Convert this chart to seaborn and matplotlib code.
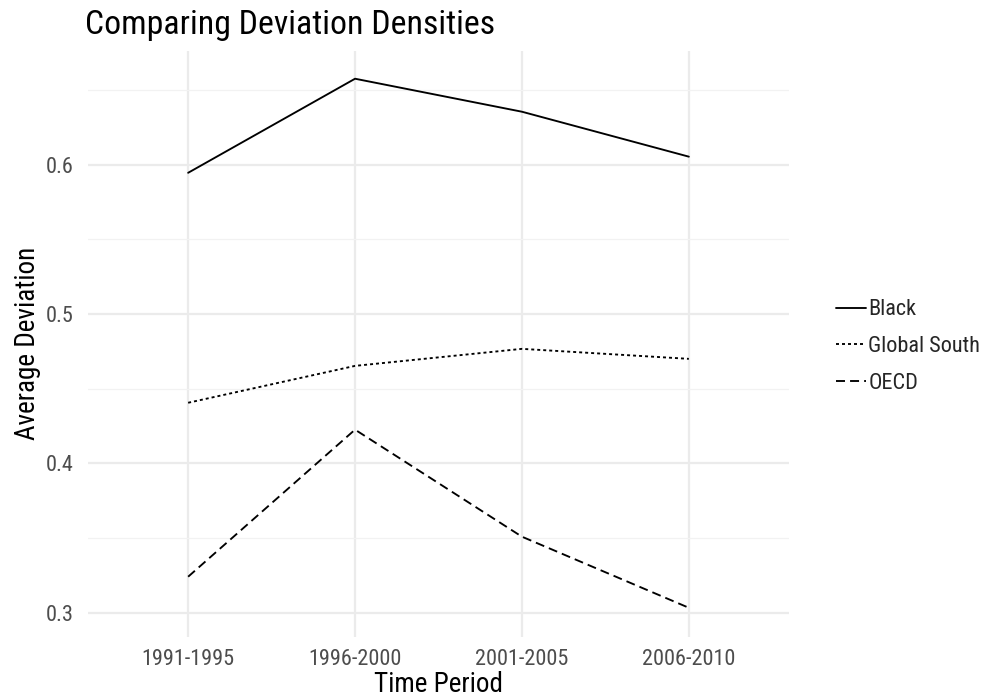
import numpy as np
import pandas as pd
import seaborn as sns
import matplotlib.pyplot as plt
from matplotlib import font_manager

# data
periods = ["1991-1995", "1996-2000", "2001-2005", "2006-2010"]
black = [0.5946, 0.6576, 0.6355, 0.6054]
global_south = [0.4406, 0.4653, 0.4767, 0.4700]
oecd = [0.3241, 0.4226, 0.3509, 0.3033]
groups = ["Black", "Global South", "OECD"]

df = pd.DataFrame({
    "period": periods * 3,
    "value": black + global_south + oecd,
    "group": np.repeat(groups, len(periods)),
})
df["x"] = df["period"].map({p: i for i, p in enumerate(periods)})

sns.set_theme(style="white")
names = {f.name for f in font_manager.fontManager.ttflist}
fam = "Roboto Condensed" if "Roboto Condensed" in names else "Roboto"
plt.rcParams["font.family"] = [fam, "DejaVu Sans"]

fig = plt.figure(figsize=(9.82, 7.0), dpi=100)
ax = fig.add_axes([88 / 982, 63.4 / 700, (789 - 88) / 982, (649.5 - 63.4) / 700])

lw = 1.35
dashes = {"Black": "", "Global South": (1.6, 1.6), "OECD": (4.8, 2.7)}
sns.lineplot(data=df, x="x", y="value", style="group", dashes=dashes,
             color="black", linewidth=lw, ax=ax, legend=True)

ax.set_xlim(-0.6, 3.6)
ax.set_ylim(0.2840, 0.6765)
ax.set_xticks(range(len(periods)))
ax.set_xticklabels(periods)
ax.set_yticks([0.3, 0.4, 0.5, 0.6])
ax.set_yticks([0.35, 0.45, 0.55, 0.65], minor=True)
ax.grid(True, which="major", color="#ebebeb", linewidth=1.6)
ax.grid(True, which="minor", color="#f2f2f2", linewidth=0.9)
ax.set_axisbelow(True)
for s in ax.spines.values():
    s.set_visible(False)
ax.tick_params(axis="both", which="both", length=0, labelsize=16, colors="#4d4d4d")
ax.tick_params(axis="x", pad=9)
ax.tick_params(axis="y", pad=10)

ax.set_xlabel("Time Period", fontsize=19.5, color="black", labelpad=1)
ax.set_ylabel("Average Deviation", fontsize=19.5, color="black", labelpad=4)
ax.set_title("Comparing Deviation Densities", fontsize=24.3, loc="left", x=-0.004, pad=12, color="black")

leg = ax.legend(loc="center left", bbox_to_anchor=(1.067, 0.495), frameon=False,
                fontsize=16, handlelength=1.35, handletextpad=0.1, labelspacing=0.7,
                borderpad=0, borderaxespad=0)
for line in leg.get_lines():
    line.set_linewidth(lw)

fig.savefig("out.png", dpi=100)
